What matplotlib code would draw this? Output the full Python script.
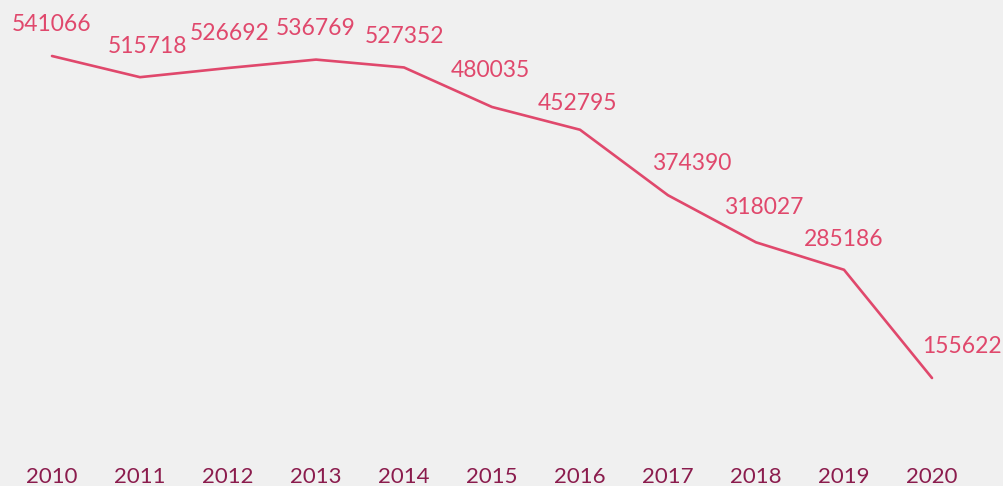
import matplotlib.pyplot as plt

# dados
anos = [2010, 2011, 2012, 2013, 2014, 2015, 2016, 2017, 2018, 2019, 2020]
valores = [541066, 515718, 526692, 536769, 527352, 480035, 452795,
           374390, 318027, 285186, 155622]

# deslocamento dos rótulos (pixels)
deslocamentos = [(0, 31), (8, 31), (2, 35), (0, 31), (1, 31), (-2, 36),
                 (-3, 26), (24, 32), (8, 35), (0, 30), (30, 32)]

cor_linha = '#e0486c'
cor_anos = '#8b1c4d'
fundo = '#f0f0f0'

plt.rcParams['font.family'] = ['Lato', 'DejaVu Sans']

fig = plt.figure(figsize=(10.04, 4.86), dpi=100, facecolor=fundo)
ax = fig.add_axes([52 / 1004, 1 - 378 / 486, 880 / 1004, 322 / 486])
ax.set_facecolor(fundo)

ax.plot(anos, valores, color=cor_linha, linewidth=1.9, clip_on=False,
        solid_capstyle='round')
ax.set_xlim(anos[0], anos[-1])
ax.set_ylim(min(valores), max(valores))

for ano, v, (dx, dy) in zip(anos, valores, deslocamentos):
    ax.annotate(str(v), (ano, v), xytext=(dx * 0.72, dy * 0.72),
                textcoords='offset points', ha='center', va='center',
                color=cor_linha, fontsize=16.5)

ax.set_xticks(anos)
ax.set_xticklabels([str(a) for a in anos])
ax.tick_params(axis='x', length=0, pad=64, labelsize=16, labelcolor=cor_anos)
ax.set_yticks([])
for s in ax.spines.values():
    s.set_visible(False)

fig.savefig('out.png', dpi=100, facecolor=fundo)
